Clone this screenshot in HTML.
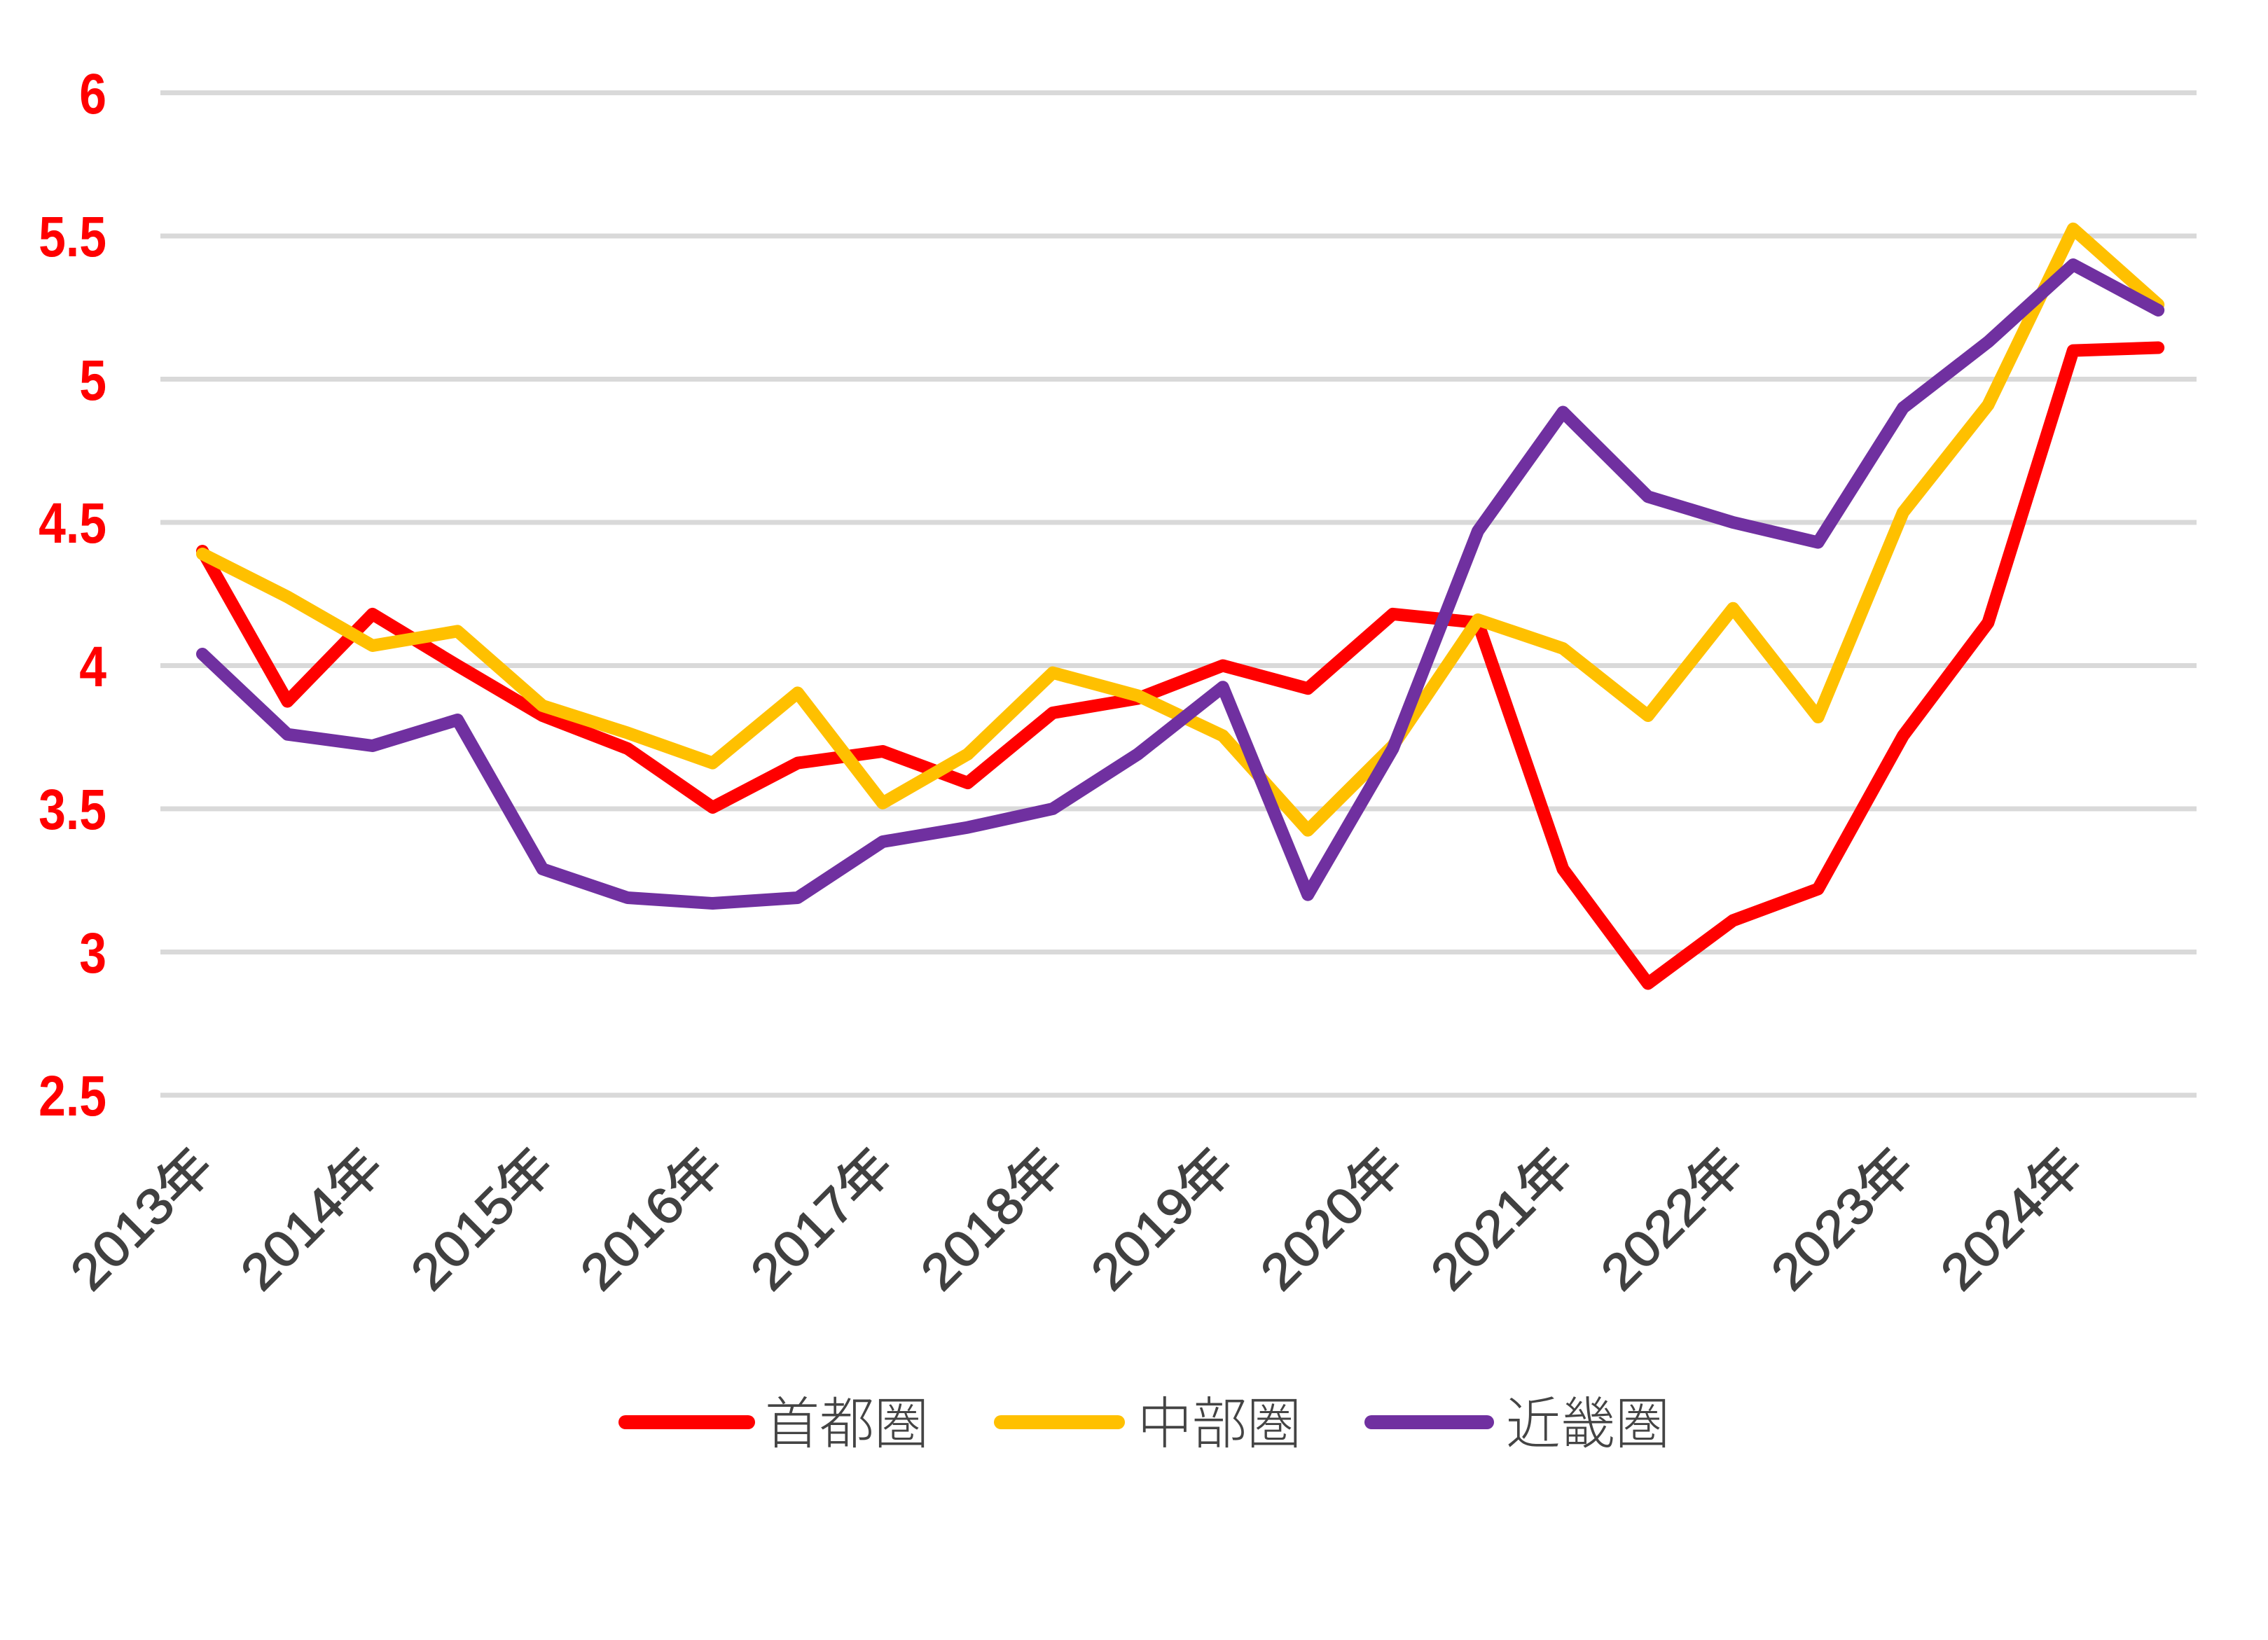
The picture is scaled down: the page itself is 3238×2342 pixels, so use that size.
<!DOCTYPE html>
<html><head><meta charset="utf-8"><style>
html,body{margin:0;padding:0;background:#fff;}
svg{display:block;}
</style></head><body>
<svg width="3238" height="2342" viewBox="0 0 3238 2342" xmlns="http://www.w3.org/2000/svg">
<rect width="3238" height="2342" fill="#fff"/>
<g stroke="#d9d9d9" stroke-width="7">
<line x1="229" y1="132.5" x2="3136" y2="132.5"/>
<line x1="229" y1="337" x2="3136" y2="337"/>
<line x1="229" y1="541.5" x2="3136" y2="541.5"/>
<line x1="229" y1="746" x2="3136" y2="746"/>
<line x1="229" y1="950.5" x2="3136" y2="950.5"/>
<line x1="229" y1="1155" x2="3136" y2="1155"/>
<line x1="229" y1="1359.5" x2="3136" y2="1359.5"/>
<line x1="229" y1="1564" x2="3136" y2="1564"/>
</g>
<g font-family="Liberation Sans, sans-serif" font-weight="bold" font-size="82" fill="#ff0000" text-anchor="end">
<text x="152" y="162" transform="translate(152 0) scale(0.85 1) translate(-152 0)">6</text>
<text x="152" y="366" transform="translate(152 0) scale(0.85 1) translate(-152 0)">5.5</text>
<text x="152" y="571" transform="translate(152 0) scale(0.85 1) translate(-152 0)">5</text>
<text x="152" y="775" transform="translate(152 0) scale(0.85 1) translate(-152 0)">4.5</text>
<text x="152" y="980" transform="translate(152 0) scale(0.85 1) translate(-152 0)">4</text>
<text x="152" y="1184" transform="translate(152 0) scale(0.85 1) translate(-152 0)">3.5</text>
<text x="152" y="1389" transform="translate(152 0) scale(0.85 1) translate(-152 0)">3</text>
<text x="152" y="1593" transform="translate(152 0) scale(0.85 1) translate(-152 0)">2.5</text>
</g>
<g fill="none" stroke-width="18" stroke-linejoin="round" stroke-linecap="round">
<polyline stroke="#ff0000" points="289,787 410.4,1001.6 531.8,876.9 653.2,950.5 774.6,1022 896,1069 1017.4,1153 1138.8,1089.6 1260.2,1073 1381.6,1118 1503,1018 1624.4,997.5 1745.8,950.5 1867.2,983.2 1988.6,876.9 2110,889.2 2231.4,1241 2352.8,1404.5 2474.2,1314.5 2595.6,1269.5 2717,1050.7 2838.4,889.2 2959.8,500.6 3081.2,496.5"/>
<polyline stroke="#ffc000" points="289,791 410.4,852.3 531.8,922 653.2,901.4 774.6,1007.8 896,1046.6 1017.4,1089.6 1138.8,989.4 1260.2,1146.8 1381.6,1077 1503,960.7 1624.4,993.4 1745.8,1050.7 1867.2,1185.7 1988.6,1065 2110,885 2231.4,926 2352.8,1022 2474.2,868.7 2595.6,1024 2717,731.7 2838.4,578.3 2959.8,326.8 3081.2,435"/>
<polyline stroke="#7030a0" points="289,934 410.4,1048.7 531.8,1065 653.2,1028 774.6,1241 896,1282 1017.4,1290 1138.8,1282 1260.2,1202 1381.6,1181.6 1503,1155 1624.4,1077 1745.8,981.2 1867.2,1277.7 1988.6,1069 2110,758.3 2231.4,588.5 2352.8,709.2 2474.2,746 2595.6,774.6 2717,582.4 2838.4,488.3 2959.8,378 3081.2,443"/>
</g>
<g font-family="Liberation Sans, 'Noto Sans CJK JP', sans-serif" font-size="72" fill="#404040" text-anchor="end" stroke="#404040" stroke-width="1.5">
<text transform="translate(308 1670) rotate(-45)" textLength="250" lengthAdjust="spacingAndGlyphs">2013年</text>
<text transform="translate(551 1670) rotate(-45)" textLength="250" lengthAdjust="spacingAndGlyphs">2014年</text>
<text transform="translate(794 1670) rotate(-45)" textLength="250" lengthAdjust="spacingAndGlyphs">2015年</text>
<text transform="translate(1036 1670) rotate(-45)" textLength="250" lengthAdjust="spacingAndGlyphs">2016年</text>
<text transform="translate(1279 1670) rotate(-45)" textLength="250" lengthAdjust="spacingAndGlyphs">2017年</text>
<text transform="translate(1522 1670) rotate(-45)" textLength="250" lengthAdjust="spacingAndGlyphs">2018年</text>
<text transform="translate(1765 1670) rotate(-45)" textLength="250" lengthAdjust="spacingAndGlyphs">2019年</text>
<text transform="translate(2007 1670) rotate(-45)" textLength="250" lengthAdjust="spacingAndGlyphs">2020年</text>
<text transform="translate(2250 1670) rotate(-45)" textLength="250" lengthAdjust="spacingAndGlyphs">2021年</text>
<text transform="translate(2493 1670) rotate(-45)" textLength="250" lengthAdjust="spacingAndGlyphs">2022年</text>
<text transform="translate(2736 1670) rotate(-45)" textLength="250" lengthAdjust="spacingAndGlyphs">2023年</text>
<text transform="translate(2978 1670) rotate(-45)" textLength="250" lengthAdjust="spacingAndGlyphs">2024年</text>
</g>
<g stroke-width="20" stroke-linecap="round">
<line x1="893" y1="2031" x2="1068" y2="2031" stroke="#ff0000"/>
<line x1="1429" y1="2031" x2="1596" y2="2031" stroke="#ffc000"/>
<line x1="1958" y1="2031" x2="2123" y2="2031" stroke="#7030a0"/>
</g>
<g font-family="'Noto Sans CJK JP', sans-serif" font-size="80" fill="#444" font-weight="300">
<text x="1092" y="2061" textLength="234" lengthAdjust="spacingAndGlyphs">首都圏</text>
<text x="1624" y="2061" textLength="234" lengthAdjust="spacingAndGlyphs">中部圏</text>
<text x="2150" y="2061" textLength="234" lengthAdjust="spacingAndGlyphs">近畿圏</text>
</g>
</svg>
</body></html>
